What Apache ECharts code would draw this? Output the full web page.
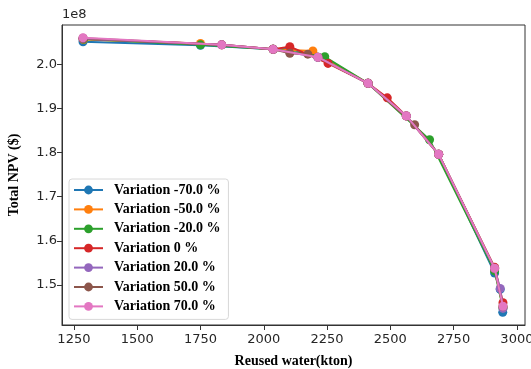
<!DOCTYPE html>
<html>
<head>
<meta charset="utf-8">
<script src="https://cdn.jsdelivr.net/npm/echarts@6/dist/echarts.min.js"></script>
<style>
  html, body { margin: 0; padding: 0; background: #fff; }
  #chart { width: 531px; height: 369px; }
</style>
</head>
<body>
<div id="chart"></div>
<script>
// Pareto fronts of total NPV (in units of 1e8 $) against reused water (kton)
const seriesNames = [
  'Variation -70.0 %', 'Variation -50.0 %', 'Variation -20.0 %', 'Variation 0 %',
  'Variation 20.0 %', 'Variation 50.0 %', 'Variation 70.0 %'
];
const colors = ['#1f77b4', '#ff7f0e', '#2ca02c', '#d62728', '#9467bd', '#8c564b', '#e377c2'];

const waterM70 = [1286, 1750, 2037, 2103, 2214, 2412, 2563, 2691, 2912, 2934, 2944];
const npvM70   = [2.051, 2.043, 2.034, 2.035, 2.016, 1.957, 1.883, 1.796, 1.527, 1.490, 1.438];
const waterM50 = [1288, 1750, 2037, 2194, 2412, 2563, 2691, 2912, 2945];
const npvM50   = [2.056, 2.047, 2.034, 2.030, 1.957, 1.883, 1.796, 1.535, 1.450];
const waterM20 = [1288, 1750, 2037, 2241, 2412, 2655, 2912, 2945];
const npvM20   = [2.057, 2.044, 2.034, 2.017, 1.957, 1.829, 1.532, 1.448];
const waterP0  = [1286, 1834, 2037, 2103, 2254, 2412, 2488, 2563, 2691, 2912, 2945];
const npvP0    = [2.058, 2.044, 2.034, 2.040, 2.002, 1.957, 1.924, 1.883, 1.796, 1.540, 1.460];
const waterP20 = [1286, 1834, 2037, 2214, 2412, 2563, 2691, 2912, 2934, 2945];
const npvP20   = [2.058, 2.044, 2.034, 2.016, 1.957, 1.883, 1.796, 1.537, 1.492, 1.447];
const waterP50 = [1286, 1834, 2037, 2103, 2174, 2214, 2412, 2596, 2691, 2912, 2945];
const npvP50   = [2.059, 2.044, 2.034, 2.025, 2.023, 2.016, 1.957, 1.863, 1.796, 1.538, 1.452];
const waterP70 = [1286, 1834, 2037, 2214, 2412, 2563, 2691, 2912, 2945];
const npvP70   = [2.060, 2.044, 2.034, 2.016, 1.957, 1.883, 1.796, 1.538, 1.452];

const xTicks = [1250, 1500, 1750, 2000, 2250, 2500, 2750, 3000];
const yTicks = [1.5, 1.6, 1.7, 1.8, 1.9, 2.0];

const waterSets = [waterM70, waterM50, waterM20, waterP0, waterP20, waterP50, waterP70];
const npvSets   = [npvM70, npvM50, npvM20, npvP0, npvP20, npvP50, npvP70];

const tickFont = { fontFamily: 'DejaVu Sans', fontSize: 13, color: '#262626' };
const serifBold = { fontFamily: 'Liberation Serif', fontWeight: 'bold', fontSize: 14, color: '#000' };

const chart = echarts.init(document.getElementById('chart'), null, { renderer: 'canvas' });

chart.setOption({
  backgroundColor: '#fff',
  animation: false,
  grid: {
    left: 62, right: 6, top: 25, bottom: 44,
    outerBoundsMode: 'none',
    containLabel: false,
    show: true, borderColor: '#333', borderWidth: 1, backgroundColor: 'transparent'
  },
  xAxis: {
    type: 'value',
    min: 1203, max: 3032,
    name: 'Reused water(kton)',
    nameLocation: 'middle',
    nameGap: 29,
    nameTextStyle: serifBold,
    axisLine: { show: true, onZero: false, lineStyle: { color: '#333', width: 1 } },
    axisTick: { show: true, inside: false, length: 5, customValues: xTicks, lineStyle: { color: '#333' } },
    axisLabel: { ...tickFont, margin: 8, customValues: xTicks, formatter: v => String(v) },
    splitLine: { show: false }
  },
  yAxis: {
    type: 'value',
    min: 1.4094, max: 2.089,
    name: 'Total NPV ($)',
    nameLocation: 'middle',
    nameGap: 41,
    nameRotate: 90,
    nameTextStyle: serifBold,
    axisLine: { show: true, onZero: false, lineStyle: { color: '#333', width: 1 } },
    axisTick: { show: true, inside: false, length: 5, customValues: yTicks, lineStyle: { color: '#333' } },
    axisLabel: { ...tickFont, margin: 5, customValues: yTicks, formatter: v => v.toFixed(1) },
    splitLine: { show: false }
  },
  graphic: [{
    type: 'text', left: 62, top: 8,
    style: { text: '1e8', font: '13px "DejaVu Sans"', fill: '#262626' }
  }],
  legend: {
    orient: 'vertical',
    left: 69, top: 179,
    padding: [4, 8, 6, 4],
    itemWidth: 29, itemHeight: 11,
    itemGap: 5.4,
    backgroundColor: '#fff',
    borderColor: '#d8d8d8', borderWidth: 1, borderRadius: 3,
    textStyle: { ...serifBold, padding: [0, 0, 0, 6] },
    data: seriesNames
  },
  series: seriesNames.map((name, i) => ({
    name,
    type: 'line',
    data: waterSets[i].map((x, j) => [x, npvSets[i][j]]),
    color: colors[i],
    symbol: 'circle',
    symbolSize: 9,
    lineStyle: { width: 2 },
    itemStyle: { color: colors[i] },
    z: 2 + i
  }))
});
</script>
</body>
</html>
